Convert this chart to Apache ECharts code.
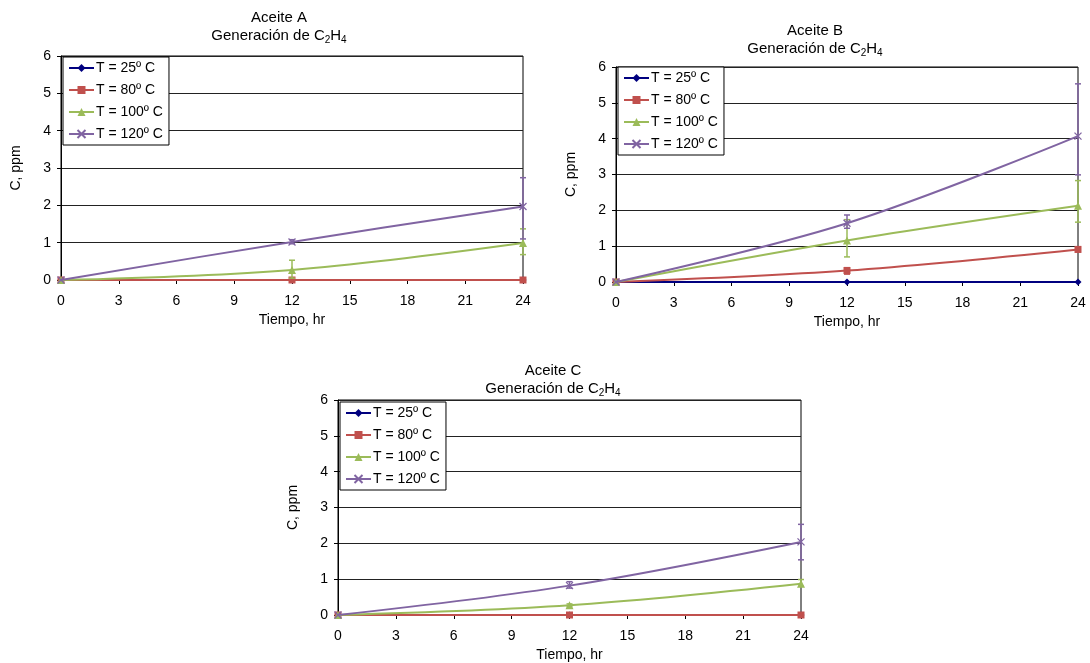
<!DOCTYPE html>
<html>
<head>
<meta charset="utf-8">
<script src="https://cdn.jsdelivr.net/npm/echarts@6/dist/echarts.min.js"></script>
<style>html,body{margin:0;padding:0;background:#fff;}#c{width:1090px;height:663px;}</style>
</head>
<body>
<div id="c"></div>
<script>
// ---- data ----
const times = [0, 12, 24];
const seriesNames = ['T = 25º C', 'T = 80º C', 'T = 100º C', 'T = 120º C'];
const xTicks = [0, 3, 6, 9, 12, 15, 18, 21, 24];
const yTicks = [0, 1, 2, 3, 4, 5, 6];

// Aceite A
const A_25 = [0, 0, 0];
const A_80 = [0, 0, 0];
const A_100 = [0, 0.27, 0.99];
const A_120 = [0, 1.02, 1.97];
const A_err100 = [[12, 0.05, 0.53], [24, 0.68, 1.37]];
const A_err120 = [[12, 0.97, 1.08], [24, 1.10, 2.74]];

// Aceite B
const B_25 = [0, 0, 0];
const B_80 = [0, 0.32, 0.91];
const B_100 = [0, 1.16, 2.13];
const B_120 = [0, 1.64, 4.07];
const B_err80 = [[12, 0.22, 0.40], [24, 0.84, 0.98]];
const B_err100 = [[12, 0.70, 1.74], [24, 1.67, 2.83]];
const B_err120 = [[12, 1.50, 1.87], [24, 2.99, 5.53]];

// Aceite C
const C_25 = [0, 0, 0];
const C_80 = [0, 0, 0];
const C_100 = [0, 0.27, 0.87];
const C_120 = [0, 0.82, 2.04];
const C_err100 = [[12, 0.23, 0.31], [24, 0.80, 0.99]];
const C_err120 = [[12, 0.75, 0.93], [24, 1.54, 2.53]];

const colors = ['#00007F', '#C0504D', '#9BBB59', '#8064A2'];
const symbols = ['diamond', 'rect', 'triangle', 'path://M0,0L10,10M10,0L0,10'];
const symbolSizes = [7, 7, 8, 7];

const charts = [
  {title: 'Aceite A', vals: [A_25, A_80, A_100, A_120], errs: [null, null, A_err100, A_err120],
   grid: {left: 61, top: 56, width: 462, height: 224}, titleX: 279, titleY: 9, legend: {left: 63, top: 57}},
  {title: 'Aceite B', vals: [B_25, B_80, B_100, B_120], errs: [null, B_err80, B_err100, B_err120],
   grid: {left: 616, top: 67, width: 462, height: 215}, titleX: 815, titleY: 22, legend: {left: 618, top: 67}},
  {title: 'Aceite C', vals: [C_25, C_80, C_100, C_120], errs: [null, null, C_err100, C_err120],
   grid: {left: 338, top: 400, width: 463, height: 218}, titleX: 553, titleY: 362, legend: {left: 340, top: 402}}
];

const FONT = 'Liberation Sans, Arial, sans-serif';
const option = {
  animation: false,
  backgroundColor: '#fff',
  textStyle: {fontFamily: FONT},
  title: [], grid: [], xAxis: [], yAxis: [], legend: [], series: []
};

charts.forEach((ch, ci) => {
  option.title.push({
    text: '{a|' + ch.title + '}\n{a|Generación de C}{s|2}{a|H}{s|4}',
    left: ch.titleX, top: ch.titleY, textAlign: 'center', padding: 0,
    textStyle: {
      fontFamily: FONT, fontWeight: 'normal', color: '#000',
      rich: {
        a: {fontSize: 15, lineHeight: 18, color: '#000', fontFamily: FONT},
        s: {fontSize: 10, lineHeight: 18, color: '#000', fontFamily: FONT, padding: [9, 0, 0, 0]}
      }
    }
  });
  option.grid.push(Object.assign({show: true, borderColor: '#000', borderWidth: 1, backgroundColor: 'transparent'}, ch.grid));
  option.xAxis.push({
    type: 'value', gridIndex: ci, min: 0, max: 24, interval: 3,
    name: 'Tiempo, hr', nameLocation: 'middle', nameGap: 33,
    nameTextStyle: {fontSize: 14, color: '#000', fontFamily: FONT},
    axisLine: {lineStyle: {color: '#000', width: 1}},
    axisTick: {show: true, inside: false, length: 4, lineStyle: {color: '#000'}},
    axisLabel: {fontSize: 14, color: '#000', margin: 14, fontFamily: FONT,
      formatter: v => xTicks.includes(v) ? String(v) : ''},
    splitLine: {show: false}
  });
  option.yAxis.push({
    type: 'value', gridIndex: ci, min: 0, max: 6, interval: 1,
    name: 'C, ppm', nameLocation: 'middle', nameGap: 38,
    nameTextStyle: {fontSize: 14, color: '#000', fontFamily: FONT},
    axisLine: {show: true, lineStyle: {color: '#000', width: 1}},
    axisTick: {show: true, inside: false, length: 4, lineStyle: {color: '#000'}},
    axisLabel: {fontSize: 14, color: '#000', margin: 10, fontFamily: FONT,
      formatter: v => yTicks.includes(v) ? String(v) : ''},
    splitLine: {show: true, lineStyle: {color: '#222', width: 1}}
  });
  option.legend.push({
    orient: 'vertical', left: ch.legend.left, top: ch.legend.top,
    data: seriesNames, backgroundColor: '#fff', borderColor: '#000', borderWidth: 1,
    padding: [4, 6, 4, 5], itemGap: 8, itemWidth: 25, itemHeight: 10,
    textStyle: {fontSize: 14, lineHeight: 14, color: '#000', fontFamily: FONT, padding: [0, 0, 0, -3]},
    selectedMode: false
  });
  seriesNames.forEach((nm, si) => {
    const vals = ch.vals[si];
    option.series.push({
      type: 'line', name: nm, xAxisIndex: ci, yAxisIndex: ci,
      data: times.map((t, k) => [t, vals[k]]),
      smooth: 0.35, symbol: symbols[si], symbolSize: symbolSizes[si],
      showSymbol: true,
      lineStyle: {color: colors[si], width: 2},
      itemStyle: {color: colors[si], borderColor: colors[si], borderWidth: si === 3 ? 1.3 : 0},
      z: 3 + si
    });
    const err = ch.errs[si];
    if (err) {
      option.series.push({
        type: 'custom', name: nm + ' err', xAxisIndex: ci, yAxisIndex: ci,
        data: err, z: 3 + si,
        encode: {x: 0, y: [1, 2]},
        renderItem: (params, api) => {
          const x = api.value(0), lo = api.value(1), hi = api.value(2);
          const p1 = api.coord([x, lo]), p2 = api.coord([x, hi]);
          const w = 3, st = {stroke: colors[si], lineWidth: 1.5};
          return {type: 'group', children: [
            {type: 'line', shape: {x1: p1[0], y1: p1[1], x2: p2[0], y2: p2[1]}, style: st},
            {type: 'line', shape: {x1: p1[0] - w, y1: p1[1], x2: p1[0] + w, y2: p1[1]}, style: st},
            {type: 'line', shape: {x1: p2[0] - w, y1: p2[1], x2: p2[0] + w, y2: p2[1]}, style: st}
          ]};
        }
      });
    }
  });
});

const chart = echarts.init(document.getElementById('c'), null, {renderer: 'canvas'});
chart.setOption(option);
</script>
</body>
</html>
